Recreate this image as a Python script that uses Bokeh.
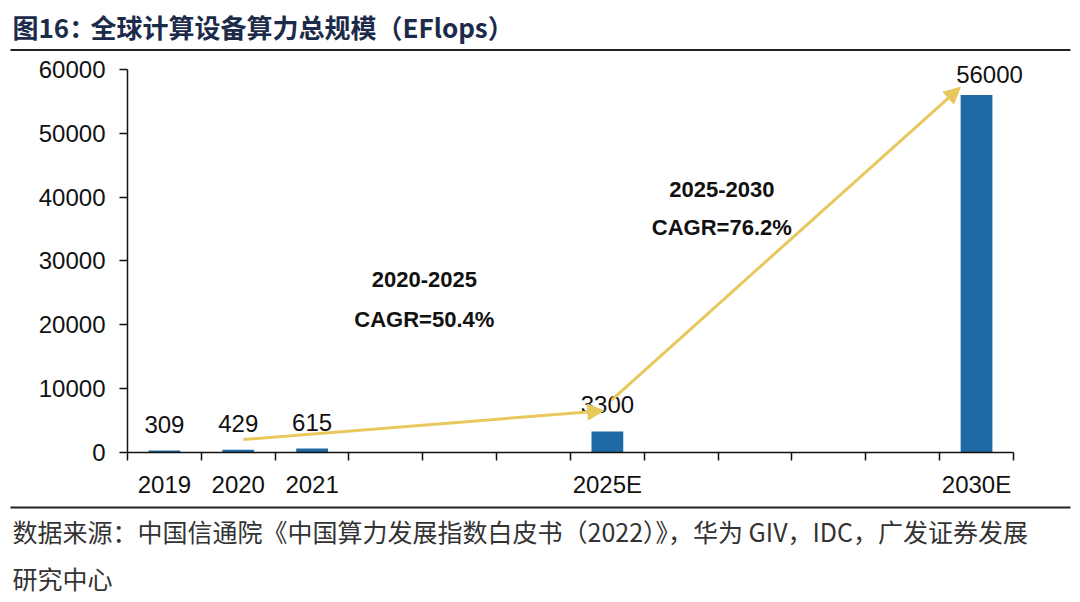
from bokeh.plotting import figure
from bokeh.layouts import column
from bokeh.models import Range1d, FixedTicker, Arrow, NormalHead, ColumnDataSource, Label
from bokeh.core.properties import value
from bokeh.embed import file_html
from bokeh.resources import INLINE

# ---- data ----
slots = ["2019", "2020", "2021", "2022", "2023", "2024", "2025E",
         "2026E", "2027E", "2028E", "2029E", "2030E"]
categories = ["2019", "2020", "2021", "2025E", "2030E"]
values = [309, 429, 615, 3300, 56000]
tick_labels = ["2019", "2020", "2021", "", "", "", "2025E", "", "", "", "", "2030E"]
y_ticks = [0, 10000, 20000, 30000, 40000, 50000, 60000]

title_head = "图16："
title_body = "全球计算设备算力总规模（EFlops）"
source_line1 = "数据来源：中国信通院《中国算力发展指数白皮书（2022）》，华为 GIV，IDC，广发证券发展"
source_line2 = "研究中心"

cagr_periods = ["2020-2025", "2025-2030"]
cagr_texts = ["CAGR=50.4%", "CAGR=76.2%"]
# arrows (approximate)
arrow_x0 = [1.07, 6.06]
arrow_y0 = [2030, 8260]
arrow_x1 = [5.95, 10.78]
arrow_y1 = [6545, 57195]
cagr_text_x = [3.52, 7.55]
cagr_text_y1 = [27100, 41150]
cagr_text_y2 = [20900, 35220]

W = 1072
BAR = "#1f6aa5"
GOLD = "#e8c85c"
FONT = "Liberation Sans"
CJK = "Noto Sans CJK SC"

def blank(fig):
    fig.axis.visible = False
    fig.grid.visible = False
    fig.outline_line_color = None

# ---- title figure ----
ft = figure(width=W, height=53, x_range=Range1d(0, W), y_range=Range1d(53, 0),
            output_backend="svg", toolbar_location=None, min_border=0, frame_align=False)
blank(ft)
ft.text(x=[12], y=[26], text=[title_head], text_font=value(CJK), text_font_style="bold",
        text_font_size="26px", text_color="#1c2b4a", text_baseline="middle", text_align="left")
ft.text(x=[90], y=[26], text=[title_body], text_font=value(CJK), text_font_style="bold",
        text_font_size="26px", text_color="#1c2b4a", text_baseline="middle", text_align="left")
ft.line(x=[10, 1070], y=[49.5, 49.5], line_color="#222222", line_width=2)

# ---- main figure ----
xs = [slots.index(c) for c in categories]
label_dx = [0, 0, 0, 0, 13]
label_dy = [18, 18, 18, 18, 12]
src = ColumnDataSource(dict(x=xs, top=values))

x_lo, x_hi = -0.5, len(slots) - 0.5
y_lo, y_hi = 0, 60000
# frame is extended a little right/top so the value labels are not clipped;
# axis lines are bounded to the real data extent
p = figure(width=W, height=447, x_range=Range1d(x_lo, x_hi + 0.8),
           y_range=Range1d(y_lo, y_hi * 401 / 385), output_backend="svg", toolbar_location=None,
           min_border_left=127, min_border_right=0, min_border_top=0, min_border_bottom=46)
p.outline_line_color = None
p.grid.visible = False

p.vbar(x="x", top="top", width=0.43, source=src, fill_color=BAR, line_color=None)
for xi, v, dx, dy in zip(xs, values, label_dx, label_dy):
    p.add_layout(Label(x=xi, y=v, text=str(v), text_align="center", text_baseline="bottom",
                       x_offset=dx, y_offset=dy, text_font=FONT, text_font_size="24px",
                       text_color="#111111"))

for i in range(2):
    p.add_layout(Arrow(end=NormalHead(size=16, fill_color=GOLD, line_color=GOLD),
                       x_start=arrow_x0[i], y_start=arrow_y0[i],
                       x_end=arrow_x1[i], y_end=arrow_y1[i],
                       line_color=GOLD, line_width=3))
p.text(x=cagr_text_x, y=cagr_text_y1, text=cagr_periods, text_align="center",
       text_baseline="middle", text_font=value(FONT), text_font_style="bold",
       text_font_size="22px", text_color="#111111")
p.text(x=cagr_text_x, y=cagr_text_y2, text=cagr_texts, text_align="center",
       text_baseline="middle", text_font=value(FONT), text_font_style="bold",
       text_font_size="22px", text_color="#111111")

# x axis: labels at slot centres, tick marks at slot boundaries
xa = p.xaxis[0]
xa.bounds = (x_lo, x_hi)
xa.ticker = FixedTicker(ticks=list(range(len(slots))),
                        minor_ticks=[i - 0.5 for i in range(len(slots) + 1)])
xa.major_label_overrides = {i: t for i, t in enumerate(tick_labels)}
xa.major_tick_out = 0
xa.major_tick_in = 0
xa.minor_tick_out = 8
xa.minor_tick_in = 0
xa.minor_tick_line_color = "#111111"
xa.minor_tick_line_width = 1.5
xa.axis_line_color = "#111111"
xa.axis_line_width = 1.5
xa.major_label_text_font = FONT
xa.major_label_text_font_size = "24px"
xa.major_label_text_color = "#111111"
xa.major_label_standoff = 10

ya = p.yaxis[0]
ya.bounds = (y_lo, y_hi)
ya.ticker = FixedTicker(ticks=y_ticks, minor_ticks=[])
ya.major_label_overrides = {t: str(t) for t in y_ticks}
ya.major_tick_out = 8
ya.major_tick_in = 0
ya.major_tick_line_color = "#111111"
ya.major_tick_line_width = 1.5
ya.minor_tick_out = 0
ya.minor_tick_in = 0
ya.axis_line_color = "#111111"
ya.axis_line_width = 1.5
ya.major_label_text_font = FONT
ya.major_label_text_font_size = "24px"
ya.major_label_text_color = "#111111"
ya.major_label_standoff = 14

# ---- footer figure ----
fb = figure(width=W, height=94, x_range=Range1d(0, W), y_range=Range1d(94, 0),
            output_backend="svg", toolbar_location=None, min_border=0, frame_align=False)
blank(fb)
fb.line(x=[10, 1070], y=[7, 7], line_color="#222222", line_width=2)
fb.text(x=[12, 12], y=[30, 77], text=[source_line1, source_line2], text_font=value(CJK),
        text_font_size="25px", text_color="#333333", text_baseline="middle", text_align="left")

layout = column(ft, p, fb, spacing=0)
open("out.html", "w").write(file_html(layout, INLINE))
